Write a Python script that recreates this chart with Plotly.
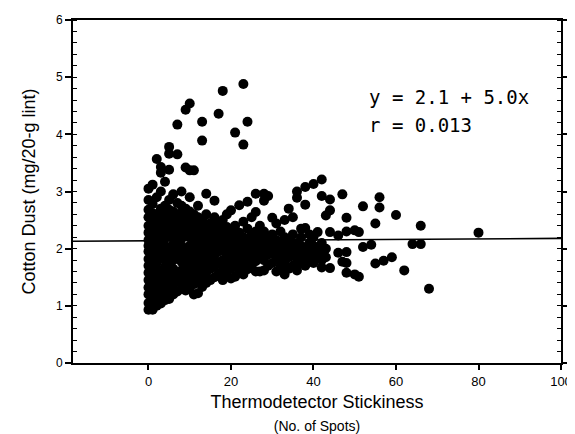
import plotly.graph_objects as go

# Scatter data: stickiness (x) -> list of cotton dust values (y)
columns = {
    0: [0.93, 1.05, 1.2, 1.32, 1.45, 1.58, 1.7, 1.82, 1.95, 2.05, 2.15, 2.28, 2.4, 2.55, 2.68, 2.85, 3.05],
    1: [0.93, 1.12, 1.27, 1.4, 1.52, 1.65, 1.78, 1.9, 2.0, 2.1, 2.22, 2.35, 2.5, 2.62, 2.78, 3.12],
    2: [1.0, 1.15, 1.3, 1.45, 1.6, 1.75, 1.88, 2.02, 2.12, 2.25, 2.45, 2.6, 2.9, 3.57],
    3: [1.04, 1.2, 1.35, 1.5, 1.62, 1.85, 1.98, 2.1, 2.2, 2.33, 2.5, 2.7, 3.0, 3.33, 3.43],
    4: [1.1, 1.25, 1.42, 1.55, 1.68, 1.8, 1.93, 2.05, 2.18, 2.3, 2.42, 2.58, 2.75, 3.17],
    5: [1.12, 1.3, 1.45, 1.6, 1.72, 1.85, 2.0, 2.25, 2.38, 2.52, 2.68, 2.85, 3.38, 3.66, 3.78],
    6: [1.2, 1.38, 1.52, 1.65, 1.8, 1.95, 2.08, 2.2, 2.35, 2.5, 2.65, 2.95],
    7: [1.25, 1.42, 1.58, 1.85, 1.98, 2.12, 2.28, 2.45, 2.6, 2.8, 3.65, 4.17],
    8: [1.3, 1.48, 1.62, 1.77, 1.9, 2.05, 2.18, 2.32, 2.48, 2.62, 2.75, 3.0],
    9: [1.27, 1.4, 1.55, 1.7, 1.85, 2.0, 2.25, 2.4, 2.55, 2.7, 3.42, 4.43],
    10: [1.3, 1.45, 1.62, 1.78, 1.92, 2.05, 2.2, 2.35, 2.5, 2.65, 2.9, 3.37, 4.54],
    11: [1.2, 1.38, 1.55, 1.7, 1.88, 2.02, 2.15, 2.3, 2.45, 2.6, 3.37],
    12: [1.22, 1.42, 1.6, 1.75, 1.9, 2.1, 2.25, 2.4, 2.55, 2.75],
    13: [1.33, 1.5, 1.68, 1.85, 2.0, 2.15, 2.3, 2.5, 3.89, 4.22],
    14: [1.4, 1.58, 1.75, 1.92, 2.08, 2.22, 2.4, 2.6, 2.96],
    15: [1.45, 1.65, 1.82, 1.98, 2.12, 2.28, 2.45],
    16: [1.5, 1.7, 1.88, 2.05, 2.2, 2.35, 2.55, 2.84],
    17: [1.57, 1.75, 1.95, 2.1, 2.25, 2.42, 4.36],
    18: [1.45, 1.62, 1.8, 2.0, 2.15, 2.32, 2.5, 4.76],
    19: [1.55, 1.72, 1.9, 2.05, 2.2, 2.38, 2.6],
    20: [1.48, 1.65, 1.82, 2.0, 2.12, 2.3, 2.67],
    21: [1.51, 1.7, 1.88, 2.05, 2.2, 2.4, 4.03],
    22: [1.6, 1.78, 1.95, 2.1, 2.28, 2.76],
    23: [1.55, 1.72, 1.9, 2.05, 2.2, 2.47, 3.82, 4.88],
    24: [1.64, 1.8, 1.98, 2.15, 2.35, 2.82, 4.22],
    25: [1.7, 1.88, 2.05, 2.25, 2.55],
    26: [1.6, 1.78, 1.95, 2.12, 2.3, 2.64, 2.96],
    27: [1.6, 1.85, 2.0, 2.2, 2.4],
    28: [1.62, 1.8, 1.95, 2.1, 2.3, 2.84, 2.96],
    29: [1.7, 1.9, 2.05, 2.2, 2.92],
    30: [1.75, 1.92, 2.08, 2.25, 2.54],
    31: [1.6, 1.85, 2.0, 2.15, 2.44],
    32: [1.68, 1.8, 1.98, 2.12, 2.3],
    33: [1.55, 1.75, 1.9, 2.05, 2.2, 2.5],
    34: [1.65, 1.85, 2.0, 2.15, 2.7],
    35: [1.7, 1.9, 2.08, 2.25, 2.55],
    36: [1.62, 1.8, 1.95, 2.1, 2.89, 3.0],
    37: [1.75, 1.92, 2.05, 2.2, 2.35],
    38: [1.7, 1.85, 2.0, 2.36, 2.77, 3.08],
    39: [1.8, 1.95, 2.1, 2.25],
    40: [1.75, 1.91, 2.05, 2.2, 3.13],
    41: [1.85, 2.0, 2.29],
    42: [1.67, 1.8, 1.95, 2.1, 2.92, 3.21],
    43: [1.85, 2.0, 2.58],
    44: [1.66, 2.29, 2.67, 2.86],
    46: [1.93, 2.23],
    47: [1.77, 2.95],
    48: [1.58, 1.75, 1.94, 2.30, 2.54],
    50: [1.55, 2.32],
    51: [1.51, 2.29],
    52: [2.03, 2.74],
    54: [2.07],
    55: [1.74, 2.44],
    56: [2.72, 2.90],
    57: [1.79],
    59: [1.85],
    60: [2.59],
    62: [1.62],
    64: [2.08],
    66: [2.08, 2.40],
    68: [1.30],
    80: [2.28],
}

stickiness = []
cotton_dust = []
for xv, ys in columns.items():
    for yv in ys:
        stickiness.append(xv)
        cotton_dust.append(yv)

fit_x = [-18.3, 100]
fit_y = [2.13, 2.18]

x_ticks = [0, 20, 40, 60, 80, 100]
y_ticks = [0, 1, 2, 3, 4, 5, 6]

fig = go.Figure()
fig.add_trace(go.Scatter(x=fit_x, y=fit_y, mode="lines",
                         line=dict(color="black", width=1.6), showlegend=False))
fig.add_trace(go.Scatter(x=stickiness, y=cotton_dust, mode="markers",
                         marker=dict(color="black", size=10), showlegend=False))

fig.add_annotation(x=53.0, y=4.66, xref="x", yref="y", text="y = 2.1 + 5.0x",
                   showarrow=False, xanchor="left", yanchor="middle",
                   font=dict(family="DejaVu Sans Mono", size=19, color="black"))
fig.add_annotation(x=53.0, y=4.17, xref="x", yref="y", text="r = 0.013",
                   showarrow=False, xanchor="left", yanchor="middle",
                   font=dict(family="DejaVu Sans Mono", size=19, color="black"))

# page body adds an 8px offset, so the figure is sized to fit the window
fig.update_layout(
    width=567, height=426,
    margin=dict(l=65, r=14, t=12, b=71),
    plot_bgcolor="white", paper_bgcolor="white",
    font=dict(family="Liberation Sans, Arial", color="black"),
    xaxis=dict(range=[-18.3, 100], tickvals=x_ticks, ticktext=[str(v) for v in x_ticks],
               showgrid=False, zeroline=False, showline=True, linecolor="black",
               linewidth=2, mirror=True, ticks="outside", ticklen=5, tickwidth=1.5,
               tickcolor="black", tickfont=dict(size=13), automargin=False,
               title=dict(text="Thermodetector Stickiness<br><span style='font-size:14px'>(No. of Spots)</span>",
                          font=dict(size=18), standoff=12)),
    yaxis=dict(range=[0, 6], tickvals=y_ticks, ticktext=[str(v) for v in y_ticks],
               showgrid=False, zeroline=False, showline=True, linecolor="black",
               linewidth=2, mirror="ticks", ticks="outside", ticklen=6, tickwidth=1.5,
               tickcolor="black", tickfont=dict(size=12), automargin=False,
               minor=dict(dtick=0.2, ticks="inside", ticklen=4, tickwidth=1.2, tickcolor="black"),
               title=dict(text="Cotton Dust (mg/20-g lint)", font=dict(size=18), standoff=16)),
)

fig.write_html("out.html")
